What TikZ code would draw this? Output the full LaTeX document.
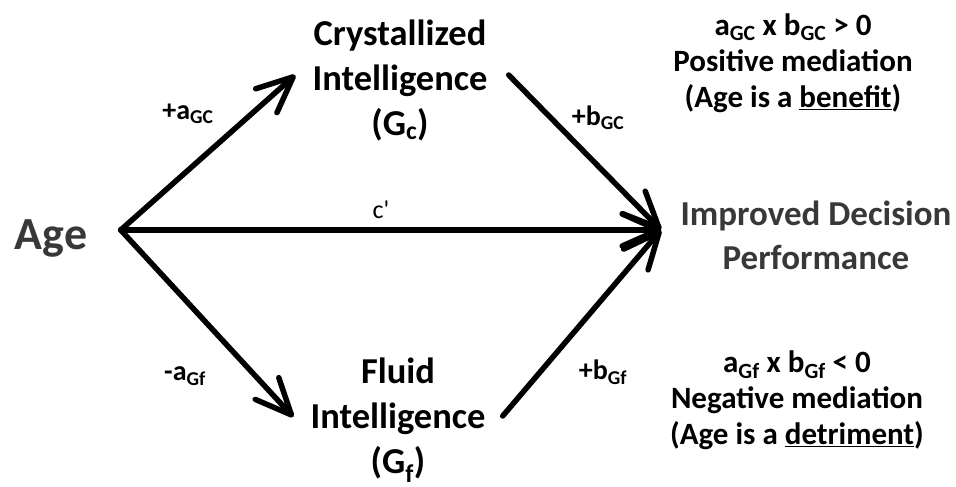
\documentclass[tikz,border=0pt]{standalone}
\usepackage{fontspec}
\setmainfont{Carlito}
\usepackage{tikz}
\usetikzlibrary{calc, positioning, arrows.meta}
\definecolor{agegray}{gray}{0.22}

\begin{document}
\begin{tikzpicture}[x=1pt, y=-1pt,
    pathline/.style={line width=5.5pt, line cap=round, -{Straight Barb[length=36pt, width=32pt, round]}},
    factor/.style={align=center, inner sep=1pt, font=\bfseries\fontsize{36.5}{45}\selectfont},
    coef/.style={font=\bfseries\fontsize{28}{30}\selectfont},
    note/.style={align=center, font=\bfseries\fontsize{31}{36}\selectfont}]
    % --- 1. 畫布大小 ---
    \useasboundingbox (0,0) rectangle (956,487);

    % --- 2. 節點 ---
    \node[font=\bfseries\fontsize{46}{50}\selectfont, text=agegray] (age) at (51,238) {Age};
    \node[factor] (gc) at (400,80) {Crystallized\\Intelligence\\(G\textsubscript{c})};
    \node[factor] (gf) at (398,420) {Fluid\\Intelligence\\(G\textsubscript{f})};
    \node[align=center, text=agegray, font=\bfseries\fontsize{35}{44}\selectfont] (perf) at (816,235) {Improved Decision\\Performance};
    \node[note] (posnote) at (793,63) {a\textsubscript{GC} x b\textsubscript{GC} > 0\\Positive mediation\\(Age is a \underline{benefit})};
    \node[note] (negnote) at (797,400) {a\textsubscript{Gf} x b\textsubscript{Gf} < 0\\Negative mediation\\(Age is a \underline{detriment})};

    % --- 3. 匯合點 ---
    \coordinate (hub) at ($(age.east)+(30,-8)$);
    \coordinate (sink) at ($(perf.west)+(-16,-5)$);

    % --- 4. 路徑 ---
    \draw[pathline] (hub) -- ($(gc.west)+(-16,-5)$);
    \draw[pathline] (hub) -- ($(gf.west)+(-16,-3)$);
    \draw[pathline] (hub) -- (sink);
    \draw[pathline] ($(gc.east)+(20,-5)$) -- (sink);
    \draw[pathline] ($(gf.east)+(16,-4)$) -- (sink);

    % --- 5. 係數 ---
    \node[coef] (agc) at (188,114) {+a\textsubscript{GC}};
    \node[coef] (agf) at (185,376) {-a\textsubscript{Gf}};
    \node[coef] (bgc) at (598,118) {+b\textsubscript{GC}};
    \node[coef] (bgf) at (603,372) {+b\textsubscript{Gf}};
    \node[font=\fontsize{26}{28}\selectfont] (cprime) at (381,210) {c\textquotesingle};
\end{tikzpicture}
\end{document}
